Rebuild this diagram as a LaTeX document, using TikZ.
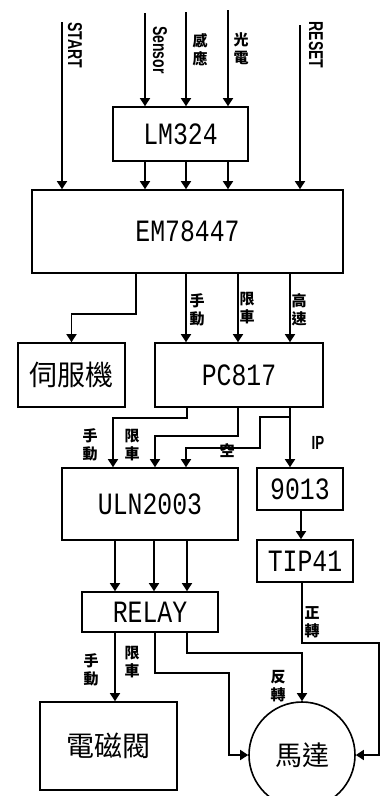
\documentclass[tikz,border=0pt]{standalone}
\usepackage{fontspec}
\newfontfamily\cjk{Noto Sans CJK TC}
\newfontfamily\chipfont[FakeStretch=0.8]{Liberation Mono}
\newfontfamily\pinfont[FakeStretch=0.7]{Liberation Sans}
\usetikzlibrary{arrows.meta, positioning, calc}

\begin{document}
\begin{tikzpicture}[x=1pt, y=-1pt, >={Triangle[length=8pt,width=10pt]}, line width=1.6pt,
            box/.style={draw, rectangle, inner sep=0pt},
            chip/.style={box, font=\chipfont\fontsize{31}{31}\selectfont},
            cjkbox/.style={box, font=\cjk\fontsize{28}{28}\selectfont},
            tag/.style={font=\cjk\bfseries\fontsize{15}{18}\selectfont, align=center, inner sep=0pt},
            pin/.style={font=\pinfont\bfseries\fontsize{20}{20}\selectfont, rotate=-90, inner sep=0pt}]
            \useasboundingbox (0,0) rectangle (381,796);

            % blocks
            \node[chip, minimum width=135pt, minimum height=54pt] (lm) at (180.5,134) {LM324};
            \node[chip, minimum width=311pt, minimum height=83pt] (emt) at (187.5,231.5) {EM78447};
            \node[cjkbox, minimum width=107pt, minimum height=64pt] (servo) at (71.5,375) {伺服機};
            \node[chip, minimum width=168pt, minimum height=64pt] (pc) at (239,375) {PC817};
            \node[chip, minimum width=176pt, minimum height=72pt] (uln) at (150,504) {ULN2003};
            \node[chip, minimum width=86pt, minimum height=42pt] (q9013) at (300,489) {9013};
            \node[chip, minimum width=96pt, minimum height=42pt] (tip) at (305,561) {TIP41};
            \node[chip, minimum width=136pt, minimum height=40pt] (relay) at (150,612) {RELAY};
            \node[cjkbox, minimum width=137pt, minimum height=88pt] (valve) at (108.5,746) {電磁閥};
            \node[draw, circle, minimum size=106pt, inner sep=0pt, font=\cjk\fontsize{27}{27}\selectfont] (motor) at (302,755) {馬達};

            % inputs
            \coordinate (in_start) at (62,22);
            \coordinate (in_reset) at (300,25);
            \draw[->] (in_start) -- (in_start |- emt.north);
            \draw[->] (in_reset) -- (in_reset |- emt.north);
            \foreach \x/\y in {145/13, 186/12, 228/10} {
                \coordinate (in_s) at (\x,\y);
                \draw[->] (in_s) -- (in_s |- lm.north);
            }
            \foreach \dx in {-35.5, 5.5, 47.5} {
                \coordinate (lm_o) at ([xshift=\dx pt]lm.south);
                \draw[->] (lm_o) -- (lm_o |- emt.north);
            }

            % EM78447 outputs
            \coordinate (emt_o1) at ([xshift=-51.5pt]emt.south);
            \draw[->] (emt_o1) -- ++(0,40) -| (servo.north);
            \foreach \dx in {-1.5, 50.5, 102.5} {
                \coordinate (emt_o) at ([xshift=\dx pt]emt.south);
                \draw[->] (emt_o) -- (emt_o |- pc.north);
            }

            % PC817 outputs
            \coordinate (pc_o1) at ([xshift=-52pt]pc.south);
            \coordinate (pc_o2) at ([xshift=-1pt]pc.south);
            \coordinate (pc_o3) at ([xshift=51pt]pc.south);
            \draw[->] (pc_o1) -- ++(0,10) -| ([xshift=-37pt]uln.north);
            \draw[->] (pc_o2) -- ++(0,28) -| ([xshift=5pt]uln.north);
            \draw[->] (pc_o3) -- (pc_o3 |- q9013.north);
            \draw[->] (pc_o3) ++(0,9) -- ++(-30,0) -- ++(0,31) -| ([xshift=36pt]uln.north);

            \coordinate (q_o) at ([xshift=1pt]q9013.south);
            \draw[->] (q_o) -- (q_o |- tip.north);

            % ULN2003 to RELAY
            \foreach \dx in {-35, 4, 37} {
                \coordinate (uln_o) at ([xshift=\dx pt]uln.south);
                \draw[->] (uln_o) -- (uln_o |- relay.north);
            }

            % RELAY and TIP41 outputs
            \coordinate (rly_o1) at ([xshift=-35pt]relay.south);
            \draw[->] (rly_o1) -- (rly_o1 |- valve.north);
            \draw[->] ([xshift=5pt]relay.south) -- ++(0,40) -- ++(74,0) |- (motor.west);
            \draw[->] ([xshift=37pt]relay.south) -- ++(0,20) -| (motor.north);
            \draw[->] ([xshift=-3pt]tip.south) -- ++(0,60) -- ++(77,0) |- (motor.east);

            % labels
            \node[pin] (t_start) at (75,45) {START};
            \node[pin] (t_sensor) at (160,50) {Sensor};
            \node[tag] (t_sense) at (200,50) {感\\應};
            \node[tag] (t_photo) at (241,49) {光\\電};
            \node[pin] (t_reset) at (316,45) {RESET};
            \node[tag] (t_man1) at (197,310) {手\\動};
            \node[tag] (t_lim1) at (247,308) {限\\車};
            \node[tag] (t_high) at (299,310) {高\\速};
            \node[tag] (t_man2) at (90,445) {手\\動};
            \node[tag] (t_lim2) at (132,445) {限\\車};
            \node[tag] (t_idle) at (227,451) {空};
            \node[font=\pinfont\bfseries\fontsize{19}{19}\selectfont, inner sep=0pt] (t_ip) at (318,443) {IP};
            \node[tag] (t_fwd) at (312,622) {正\\轉};
            \node[tag] (t_man3) at (91,670) {手\\動};
            \node[tag] (t_lim3) at (132,662) {限\\車};
            \node[tag] (t_rev) at (278,686) {反\\轉};
        \end{tikzpicture}
\end{document}
